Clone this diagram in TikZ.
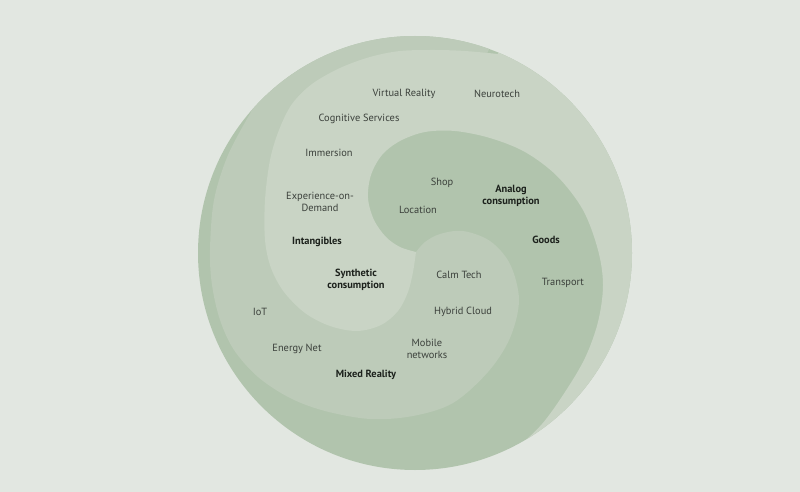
\documentclass[tikz,border=0pt]{standalone}
\usepackage{fontspec}
\setmainfont{PT Sans}
\definecolor{bgc}{HTML}{E2E7E1}
\definecolor{lc}{HTML}{C9D4C5}
\definecolor{mc}{HTML}{BDCBB9}
\definecolor{dc}{HTML}{B1C4AD}
\definecolor{txt}{HTML}{3B403B}
\definecolor{txtb}{HTML}{1C211C}
\begin{document}
\begin{tikzpicture}[x=1pt,y=-1pt,
  lab/.style={font=\fontsize{10.4}{12.5}\selectfont, text=txt, align=center, inner sep=0pt},
  blab/.style={font=\fontsize{10.4}{12.5}\selectfont\bfseries, text=txtb, align=center, inner sep=0pt},
  sm/.style={smooth, tension=0.55}]
\fill[bgc] (0,0) rectangle (800,492);
\useasboundingbox (0,0) rectangle (800,492);
% whole disc in dark colour
\fill[dc] (415,253) circle[radius=217pt];
\begin{scope}
\clip (415,253) circle[radius=217pt];
% medium arm
\fill[mc] plot[sm] coordinates {(416,252) (425,242) (440,234) (463,231) (490,241) (510,264) (519,300) (510,338) (488,372) (453,403) (413,416) (370,419) (325,411) (290,398) (258,377) (234,350) (220,320) (212,285) (210,250) (214,200) (228,155) (251,112)}
  -- (225,95) -- (240,15) -- (505,15) -- (470,90) -- (330,130) -- (320,250) -- (390,290) -- cycle;
% light arm
\fill[lc] plot[sm] coordinates {(416,252) (413,272) (408,292) (398,311) (381,325) (357,331) (330,326) (305,313) (284,292) (271,268) (265,240) (265,200) (270,160) (279,130) (292,104) (312,84) (340,68) (370,57) (400,51) (435,50) (465,51) (498,54)}
  -- (498,10) -- (700,10) -- (700,480) -- (505,480)
  -- plot[sm] coordinates {(515,450) (542,424) (565,392) (585,358) (598,322) (603,285) (598,250) (583,210) (557,176) (525,152) (490,138) (455,131) (425,132) (400,141) (382,155) (371,175) (368,198) (374,220) (386,237) (400,247) (416,252)}
  -- cycle;
\end{scope}
% labels
\node[lab]  (vr)        at (404,94)  {Virtual Reality};
\node[lab]  (neuro)     at (497,94)  {Neurotech};
\node[lab]  (cog)       at (359,119) {Cognitive Services};
\node[lab]  (imm)       at (329,153) {Immersion};
\node[lab]  (exp)       at (320,202) {Experience-on-\\Demand};
\node[blab] (intang)    at (317,242) {Intangibles};
\node[blab] (synth)     at (356,280) {Synthetic\\consumption};
\node[lab]  (shop)      at (442,183) {Shop};
\node[lab]  (loc)       at (418,210) {Location};
\node[blab] (analog)    at (511,196) {Analog\\consumption};
\node[blab] (goods)     at (546,240) {Goods};
\node[lab]  (transport) at (563,283) {Transport};
\node[lab]  (calm)      at (459,275) {Calm Tech};
\node[lab]  (hybrid)    at (463,312) {Hybrid Cloud};
\node[lab]  (iot)       at (260,312) {IoT};
\node[lab]  (energy)    at (297,349) {Energy Net};
\node[lab]  (mobile)    at (427,349) {Mobile\\networks};
\node[blab] (mixed)     at (366,375) {Mixed Reality};
\end{tikzpicture}
\end{document}
